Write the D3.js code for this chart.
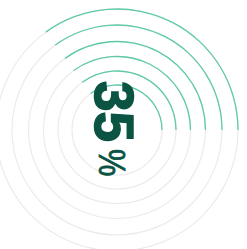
<html lang="en">
<head>
  <meta charset="UTF-8">
  <title>35%</title>
  <script src="https://d3js.org/d3.v7.min.js"></script>
  <style>
    body { margin: 0; background: #fff; }
  </style>
</head>
<body>
  <svg class="ringsvg" width="247" height="249"></svg>
  <script>
    const percent = 35;
    const ringRadii = [121, 105, 88.5, 73.5, 59, 45];
    const valueLabel = '35';
    const unitLabel = '%';

    const svg = d3.select('svg.ringsvg');
    const cx = 117, cy = 130;
    const chart = svg.append('g').attr('transform', `translate(${cx},${cy})`);

    // fraction -> angle, arc ends at 3 o'clock
    const angle = d3.scaleLinear().domain([0, 100]).range([0, 2 * Math.PI]);
    const end = Math.PI / 2;

    chart.selectAll('circle.track')
      .data(ringRadii)
      .join('circle')
      .attr('class', 'track')
      .attr('r', d => d)
      .attr('fill', 'none')
      .attr('stroke', '#ebebeb')
      .attr('stroke-width', 1.2);

    const arc = d3.arc()
      .innerRadius(d => d - 0.65)
      .outerRadius(d => d + 0.65)
      .startAngle(end - angle(percent))
      .endAngle(end);

    chart.selectAll('path.value')
      .data(ringRadii)
      .join('path')
      .attr('class', 'value')
      .attr('d', arc)
      .attr('fill', '#5ecaa8');

    const font = '"Liberation Sans", Arial, sans-serif';

    svg.append('text')
      .attr('transform', 'translate(95,81) rotate(90)')
      .attr('fill', '#0b5443')
      .attr('stroke', '#0b5443')
      .attr('stroke-width', 1.5)
      .style('font-family', font)
      .attr('font-size', 55)
      .attr('font-weight', 'bold')
      .text(valueLabel);

    svg.append('text')
      .attr('transform', 'translate(99,149) rotate(90) scale(0.88,1.05)')
      .attr('fill', '#0b5443')
      .attr('stroke', '#0b5443')
      .attr('stroke-width', 0.8)
      .style('font-family', font)
      .attr('font-size', 35)
      .text(unitLabel);
  </script>
</body>
</html>
